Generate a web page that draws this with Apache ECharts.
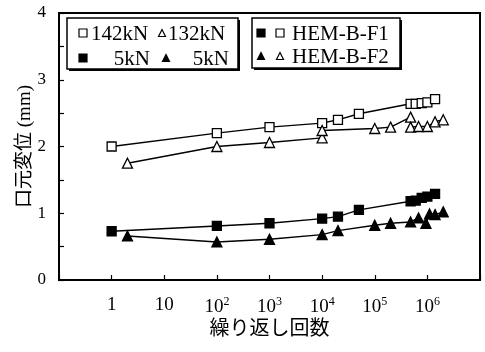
<!DOCTYPE html>
<html><head><meta charset="utf-8">
<script src="https://cdn.jsdelivr.net/npm/echarts@6/dist/echarts.min.js"></script>
<style>html,body{margin:0;padding:0;background:#fff}#c{width:485px;height:352px}</style>
</head><body><div id="c"></div>
<script>
// cycles (x) and displacement (mm)
const n142 = [1, 100, 1000, 1e4, 2e4, 5e4, 4.8e5, 6e5, 7.8e5, 1e6, 1.4e6];
const d142 = [2.0, 2.2, 2.29, 2.35, 2.4, 2.49, 2.64, 2.64, 2.65, 2.66, 2.71];
const n132 = [2, 100, 1000, 1e4, 1e4, 1e5, 2e5, 4.8e5, 4.8e5, 6.8e5, 1e6, 1.4e6, 2e6];
const d132 = [1.75, 2.0, 2.06, 2.13, 2.24, 2.27, 2.29, 2.44, 2.29, 2.3, 2.3, 2.37, 2.4];
const n5a = [1, 100, 1000, 1e4, 2e4, 5e4, 4.8e5, 6e5, 7.8e5, 1e6, 1.4e6];
const d5a = [0.73, 0.81, 0.85, 0.92, 0.95, 1.05, 1.18, 1.19, 1.23, 1.25, 1.29];
const n5b = [2, 100, 1000, 1e4, 2e4, 1e5, 2e5, 4.8e5, 6.8e5, 9.4e5, 1.1e6, 1.4e6, 2e6];
const d5b = [0.66, 0.57, 0.61, 0.68, 0.74, 0.82, 0.85, 0.87, 0.93, 0.85, 0.99, 0.98, 1.02];
const yTicks = [0, 1, 2, 3, 4];
const xTickExp = [0, 1, 2, 3, 4, 5, 6];

const serif = '"Liberation Serif", "Noto Sans CJK JP", serif';
function pairs(xs, ys) { return xs.map((x, i) => [x, ys[i]]); }
function ser(name, xs, ys, sym, filled) {
  return {
    name, type: 'line', data: pairs(xs, ys), symbol: sym, symbolSize: sym === 'rect' ? 9 : 10,
    lineStyle: { color: '#000', width: 1.4 },
    itemStyle: { color: filled ? '#000' : '#fff', borderColor: '#000', borderWidth: 1.3 },
    emphasis: { disabled: true }, animation: false, z: filled ? 3 : 4
  };
}
function sq(cx, cy, s, filled) {
  return { type: 'rect', shape: { x: cx - s / 2, y: cy - s / 2, width: s, height: s },
    style: { fill: filled ? '#000' : '#fff', stroke: '#000', lineWidth: 1.2 }, z: 20 };
}
function tri(cx, cy, s, filled) {
  return { type: 'polygon', shape: { points: [[cx, cy - s / 2], [cx + s / 2, cy + s / 2], [cx - s / 2, cy + s / 2]] },
    style: { fill: filled ? '#000' : '#fff', stroke: '#000', lineWidth: 1.2 }, z: 20 };
}
function txt(x, y, t, align) {
  return { type: 'text', x, y, style: { text: t, font: '21px ' + serif, fill: '#000', align: align || 'left', verticalAlign: 'middle' }, z: 20 };
}
function box(x, y, w, h) {
  return [
    { type: 'rect', shape: { x: x + 2, y: y + 2, width: w, height: h }, style: { fill: '#000' }, z: 18 },
    { type: 'rect', shape: { x, y, width: w, height: h }, style: { fill: '#fff', stroke: '#000', lineWidth: 1.5 }, z: 19 }
  ];
}

const chart = echarts.init(document.getElementById('c'), null, { renderer: 'canvas' });
chart.setOption({
  animation: false,
  grid: { left: 59, right: 5, top: 13, bottom: 72, show: true, borderColor: '#000', borderWidth: 2, backgroundColor: 'transparent' },
  xAxis: {
    type: 'log', logBase: 10, min: 0.1, max: 1e7,
    name: '繰り返し回数', nameLocation: 'middle', nameGap: 40, nameMoveOverlap: false,
    nameTextStyle: { fontFamily: serif, fontSize: 20, color: '#000' },
    axisLine: { lineStyle: { color: '#000', width: 2 } },
    axisTick: { inside: true, length: 5, lineStyle: { color: '#000', width: 1.2 } },
    minorTick: { show: false }, splitLine: { show: false },
    axisLabel: {
      margin: 16, color: '#000', fontFamily: serif, fontSize: 19,
      formatter: function (v) {
        const e = Math.round(Math.log10(v));
        if (xTickExp.indexOf(e) < 0) return '';
        if (e === 0) return '1';
        if (e === 1) return '10';
        return '{b|10}{s|' + e + '}';
      },
      rich: { b: { fontFamily: serif, fontSize: 19, color: '#000' }, s: { fontFamily: serif, fontSize: 12, color: '#000', padding: [0, 0, 10, 0] } }
    }
  },
  yAxis: {
    type: 'value', min: 0, max: 4, interval: 0.5,
    name: '口元変位 (mm)', nameLocation: 'middle', nameGap: 24, nameMoveOverlap: false,
    nameTextStyle: { fontFamily: serif, fontSize: 19, color: '#000' },
    axisLine: { show: true, lineStyle: { color: '#000', width: 2 } },
    axisTick: { show: true, inside: true, length: 5, lineStyle: { color: '#000', width: 1.2 } },
    splitLine: { show: false },
    axisLabel: {
      margin: 13, color: '#000', fontFamily: serif, fontSize: 17,
      formatter: v => (yTicks.indexOf(v) >= 0 ? String(v) : '')
    }
  },
  series: [
    ser('142kN', n142, d142, 'rect', false),
    ser('132kN', n132, d132, 'triangle', false),
    ser('5kN F1', n5a, d5a, 'rect', true),
    ser('5kN F2', n5b, d5b, 'triangle', true)
  ],
  graphic: [].concat(
    box(67, 18, 171, 51),
    [sq(83, 33, 8, false), txt(91, 34, '142kN'), tri(162, 33, 7, false), txt(168, 34, '132kN'),
     sq(83, 58, 8, true), txt(150, 59, '5kN', 'right'), tri(166, 58, 7, true), txt(229, 59, '5kN', 'right')],
    box(252, 18, 148, 50),
    [sq(261, 33, 8, true), sq(280, 33, 8, false), txt(292, 34, 'HEM-B-F1'),
     tri(261, 56, 7, true), tri(280, 56, 7, false), txt(292, 57, 'HEM-B-F2')]
  )
});
</script></body></html>
